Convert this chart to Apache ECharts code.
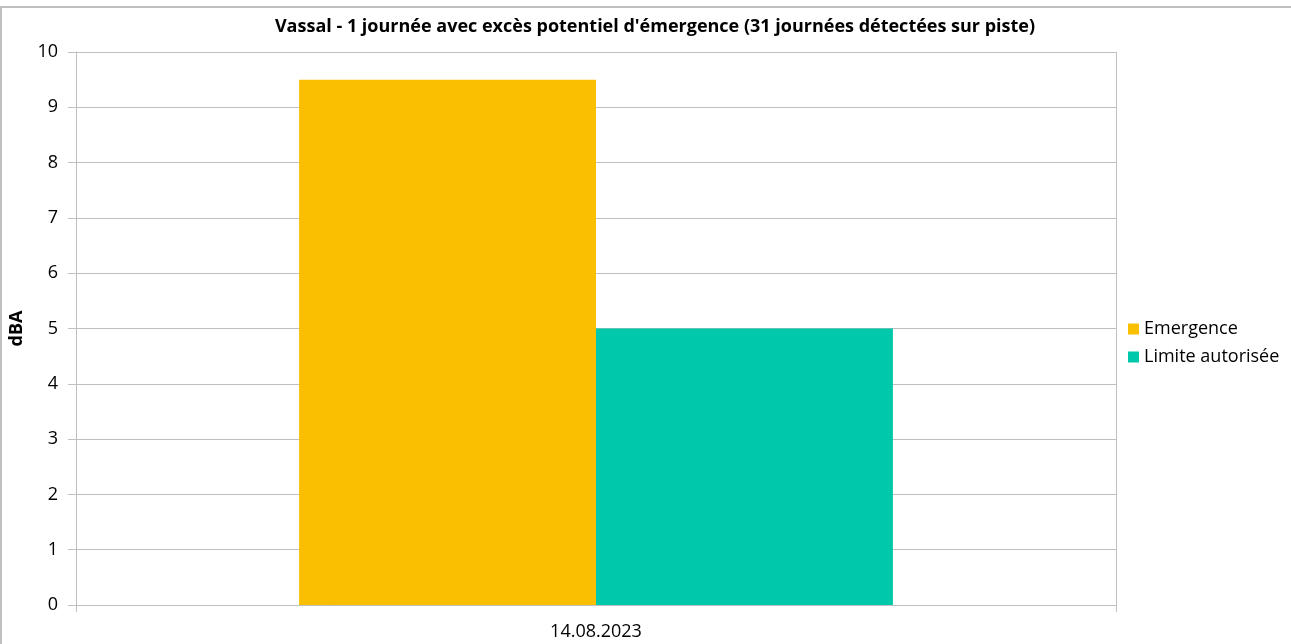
<!DOCTYPE html>
<html><head><meta charset="utf-8">
<script src="https://cdn.jsdelivr.net/npm/echarts@6/dist/echarts.min.js"></script>
<style>html,body{margin:0;padding:0;background:#fff}#c{width:1291px;height:644px}</style>
</head><body><div id="c"></div>
<script>
const categories = ['14.08.2023'];
const emergence = [9.5];
const limite = [5];
const seriesNames = ['Emergence', 'Limite autorisée'];
const titleText = "Vassal - 1 journée avec excès potentiel d'émergence (31 journées détectées sur piste)";

const FONT = '"Open Sans", "Noto Sans", sans-serif';
const chart = echarts.init(document.getElementById('c'));
chart.setOption({
  animation: false,
  backgroundColor: '#fff',
  textStyle: { fontFamily: FONT },
  title: {
    text: titleText, left: 650, textAlign: 'center', top: 13,
    textStyle: { fontFamily: FONT, fontWeight: 'bold', fontSize: 18, color: '#000' }
  },
  graphic: [{
    type: 'rect', shape: { x: 1, y: 7, width: 1400, height: 700 },
    style: { fill: 'none', stroke: '#bfbfbf', lineWidth: 2 }, silent: true
  }],
  legend: {
    orient: 'vertical', left: 1123, top: 314, itemWidth: 11, itemHeight: 11, itemGap: 8,
    icon: 'rect', textStyle: { fontFamily: FONT, fontSize: 18, color: '#000', lineHeight: 20 },
    data: seriesNames
  },
  grid: { left: 76, right: 175, top: 52, bottom: 39, containLabel: false },
  xAxis: {
    type: 'category', data: categories,
    axisLine: { lineStyle: { color: '#bfbfbf' } },
    axisTick: { show: true, length: 7, lineStyle: { color: '#bfbfbf' } },
    splitLine: { show: true, lineStyle: { color: '#bfbfbf' } },
    axisLabel: { color: '#000', fontSize: 18, margin: 18, fontFamily: FONT }
  },
  yAxis: {
    type: 'value', min: 0, max: 10, interval: 1,
    name: 'dBA', nameLocation: 'middle', nameGap: 50, nameRotate: 90,
    nameTextStyle: { fontWeight: 'bold', fontSize: 18, color: '#000', fontFamily: FONT },
    axisLine: { show: true, lineStyle: { color: '#bfbfbf' } },
    axisTick: { show: true, length: 8, lineStyle: { color: '#bfbfbf' } },
    splitLine: { lineStyle: { color: '#bfbfbf' } },
    axisLabel: { color: '#000', fontSize: 18, margin: 18, fontFamily: FONT }
  },
  series: [
    { name: seriesNames[0], type: 'bar', data: emergence, itemStyle: { color: '#F9BF00' }, barGap: '0%', barCategoryGap: '42.9%' },
    { name: seriesNames[1], type: 'bar', data: limite, itemStyle: { color: '#00C8AA' } }
  ]
});
</script></body></html>
